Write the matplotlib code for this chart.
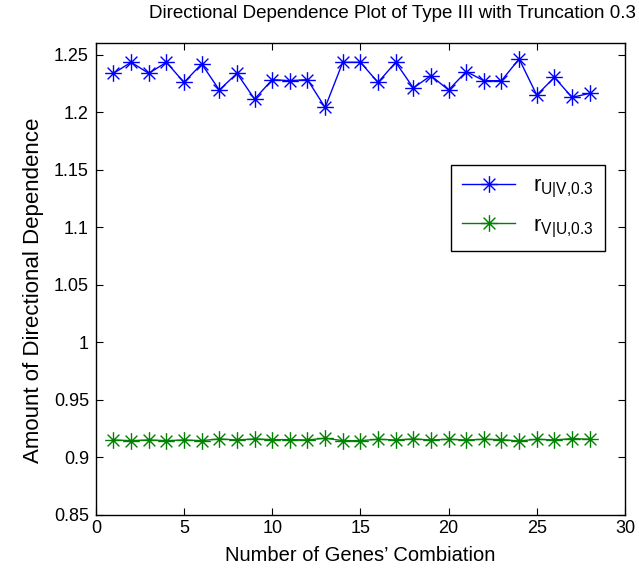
import matplotlib
matplotlib.use("Agg")
from matplotlib import pyplot as plt
from matplotlib.path import Path

plt.rcParams['font.family'] = ['Liberation Sans', 'DejaVu Sans']
plt.rcParams['mathtext.fontset'] = 'custom'
plt.rcParams['mathtext.rm'] = 'Liberation Sans'
plt.rcParams['mathtext.it'] = 'Liberation Sans'

combinations = list(range(1, 29))
r_uv = [1.2337, 1.2433, 1.2337, 1.2433, 1.2258, 1.2419, 1.2192, 1.2337,
        1.2113, 1.2282, 1.2273, 1.2282, 1.2040, 1.2433, 1.2433, 1.2258,
        1.2433, 1.2210, 1.2317, 1.2192, 1.2352, 1.2273, 1.2273, 1.2462,
        1.2148, 1.2302, 1.2128, 1.2163]
r_vu = [0.9151, 0.9145, 0.9151, 0.9145, 0.9151, 0.9145, 0.9160, 0.9151,
        0.9160, 0.9154, 0.9154, 0.9151, 0.9166, 0.9145, 0.9145, 0.9157,
        0.9151, 0.9160, 0.9151, 0.9157, 0.9151, 0.9157, 0.9154, 0.9142,
        0.9157, 0.9151, 0.9163, 0.9157]

# matlab style asterisk marker
d = 0.7071
asterisk = Path([(0, -1), (0, 1), (-1, 0), (1, 0), (-d, -d), (d, d), (-d, d), (d, -d)],
                [Path.MOVETO, Path.LINETO] * 4)

fig = plt.figure(figsize=(6.39, 5.74), dpi=100)
ax = fig.add_axes([0.150, 0.103, 0.828, 0.822])

ax.plot(combinations, r_uv, '-', marker=asterisk, color=(0, 0, 1), lw=1, ms=12, mew=1,
        label=r'$\mathregular{r_{U|V{,}0.3}}$')
ax.plot(combinations, r_vu, '-', marker=asterisk, color=(0, 0.5, 0), lw=1, ms=12, mew=1,
        label=r'$\mathregular{r_{V|U{,}0.3}}$')

ax.set_xlim(0, 30)
ax.set_ylim(0.85, 1.26)
ax.set_xticks(range(0, 31, 5))
ax.set_yticks([0.85, 0.9, 0.95, 1, 1.05, 1.1, 1.15, 1.2, 1.25])
ax.set_yticklabels(['0.85', '0.9', '0.95', '1', '1.05', '1.1', '1.15', '1.2', '1.25'])
ax.tick_params(direction='in', top=True, right=True, labelsize=13, length=5)
ax.tick_params(axis='y', pad=5)
for s in ax.spines.values():
    s.set_linewidth(1)

fig.text(392 / 639, 1 - 14 / 574, "Directional Dependence Plot of Type III with Truncation 0.3",
         fontsize=13.5, ha='center', va='center')
ax.set_xlabel("Number of Genes\u2019 Combiation", fontsize=14.5, labelpad=7)
ax.set_ylabel("Amount of Directional Dependence", fontsize=16)
ax.yaxis.set_label_coords(-0.098, 0.475)

leg = ax.legend(loc='upper right', bbox_to_anchor=(0.962, 0.742), fontsize=16,
                fancybox=False, framealpha=1, edgecolor='black',
                handlelength=2.4, borderpad=0.5, labelspacing=0.65, borderaxespad=0)
leg.get_frame().set_linewidth(1)

fig.savefig("out.png", dpi=100)
